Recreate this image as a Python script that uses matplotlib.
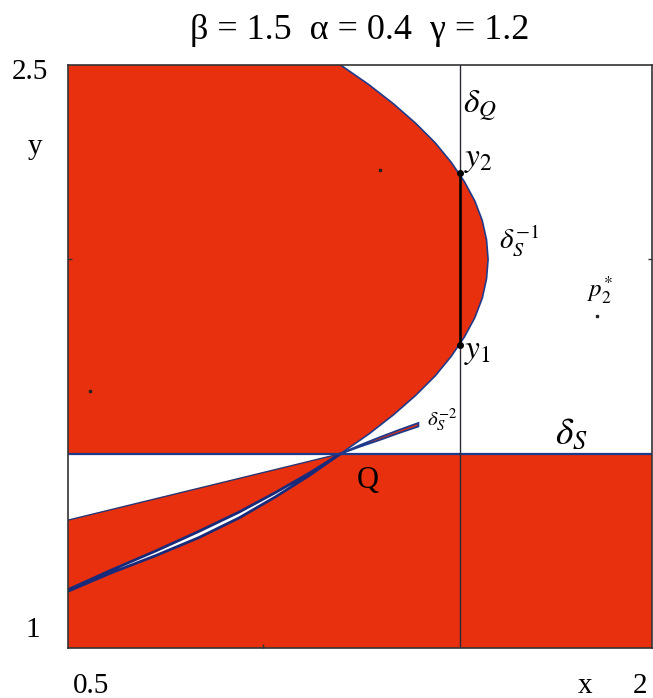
import matplotlib
matplotlib.use("Agg")
import matplotlib.pyplot as plt
import numpy as np

plt.rcParams['font.family'] = ['Liberation Serif', 'DejaVu Serif']
plt.rcParams['mathtext.fontset'] = 'stix'

RED = '#e8300f'
BLUE = '#1f3a8a'

# parameters shown in the title
beta, alpha, gamma = 1.5, 0.4, 1.2

# fixed point Q and the two invariant lines
q_pt = (1.2, 1.5)
delta_s_y = 1.5          # horizontal line delta_S
delta_q_x = 1.507        # vertical line delta_Q
y1, y2 = 1.78, 2.222     # intersections of delta_Q with delta_S^-1

# delta_S^-1 boundary, top of the box down to Q
inv1_x = [1.200, 1.272, 1.336, 1.393, 1.443, 1.484, 1.518, 1.545, 1.564, 1.575, 1.579,
          1.575, 1.564, 1.545, 1.518, 1.484, 1.443, 1.393, 1.336, 1.272, 1.200]
inv1_y = [2.50, 2.45, 2.40, 2.35, 2.30, 2.25, 2.20, 2.15, 2.10, 2.05, 2.00,
          1.95, 1.90, 1.85, 1.80, 1.75, 1.70, 1.65, 1.60, 1.55, 1.50]

# straight edge of the white wedge left of Q
wedge_x = [1.2, 0.5]
wedge_y = [1.5, 1.329]

# thin white sliver running from Q to the left border
sliver_lo_x_up = [1.200, 1.120, 1.033, 0.940, 0.836, 0.726, 0.610, 0.500]
sliver_lo_y_up = [1.500, 1.450, 1.400, 1.350, 1.300, 1.250, 1.200, 1.150]
sliver_lo_x_dn = [1.200, 1.120, 1.033, 0.940, 0.836, 0.726, 0.610, 0.500]
sliver_lo_y_dn = [1.500, 1.444, 1.389, 1.335, 1.284, 1.238, 1.193, 1.146]

# delta_S^-2 sliver going up and right from Q
sliver_hi_x_up = [1.200, 1.250, 1.300, 1.350, 1.400]
sliver_hi_y_up = [1.500, 1.522, 1.542, 1.561, 1.579]
sliver_hi_x_dn = [1.200, 1.250, 1.300, 1.350, 1.400]
sliver_hi_y_dn = [1.500, 1.518, 1.535, 1.553, 1.570]

# isolated orbit points
dots_x = [1.301, 0.5565, 1.859]
dots_y = [2.230, 1.661, 1.854]

fig = plt.figure(figsize=(6.53, 6.98), dpi=100)
ax = fig.add_axes([68 / 653, 50 / 698, 584 / 653, 583 / 698])
ax.set_xlim(0.5, 2.0)
ax.set_ylim(1.0, 2.5)

# red region above delta_S, left of delta_S^-1
top_x = [0.5, 0.5] + inv1_x
top_y = [1.5, 2.5] + inv1_y
ax.fill(top_x, top_y, color=RED, lw=0, zorder=1)

# red region below delta_S (except the white wedge)
bot_x = [0.5, 2.0, 2.0, q_pt[0], wedge_x[1]]
bot_y = [1.0, 1.0, delta_s_y, q_pt[1], wedge_y[1]]
ax.fill(bot_x, bot_y, color=RED, lw=0, zorder=1)

# slivers
ax.fill(sliver_lo_x_up + sliver_lo_x_dn[::-1], sliver_lo_y_up + sliver_lo_y_dn[::-1],
        facecolor='white', edgecolor='#1a2a7a', lw=2.0, zorder=3)
ax.fill(sliver_hi_x_up + sliver_hi_x_dn[::-1], sliver_hi_y_up + sliver_hi_y_dn[::-1],
        facecolor=RED, edgecolor=BLUE, lw=1.3, zorder=3)

# curves and lines
ax.plot(inv1_x, inv1_y, color=BLUE, lw=1.2, zorder=4)
ax.plot(wedge_x, wedge_y, color='#2a3470', lw=1.0, zorder=4)
ax.axhline(delta_s_y, color=BLUE, lw=1.6, zorder=4)
ax.axvline(delta_q_x, color='#2a2a3a', lw=1.0, zorder=4)
ax.plot([delta_q_x, delta_q_x], [y1, y2], color='black', lw=1.8, zorder=5)
ax.plot([delta_q_x, delta_q_x], [y1, y2], 'o', color='black', ms=4, zorder=6)
ax.plot(dots_x, dots_y, 's', color='#222222', ms=2, zorder=6)

# labels inside the box
ax.text(1.5146, 2.379, r'$\delta_Q$', fontsize=24, va='baseline', zorder=7)
ax.text(1.518, 2.255, r'$y_2$', fontsize=24, va='center', zorder=7)
ax.text(1.518, 1.761, r'$y_1$', fontsize=24, va='center', zorder=7)
ax.text(1.608, 2.050, r'$\delta_S^{-1}$', fontsize=21, va='center', zorder=7)
ax.text(1.832, 1.921, r'$p_2^{*}$', fontsize=18, va='center', zorder=7)
ax.text(1.751, 1.548, r'$\delta_S$', fontsize=27, va='center', zorder=7)
ax.text(1.423, 1.587, r'$\delta_S^{-2}$', fontsize=15, va='center', zorder=7)
ax.text(1.271, 1.432, 'Q', fontsize=22, ha='center', va='center', zorder=7)

ax.set_xticks([1.0])
ax.set_yticks([2.0])
ax.set_xticklabels([])
ax.set_yticklabels([])
ax.tick_params(direction='in', length=3, width=1, right=True, colors='#333333')
for s in ax.spines.values():
    s.set_color('#333333')
    s.set_linewidth(1.2)
    s.set_zorder(8)

# title and axis annotations
fig.text(0.551, 0.957, f'β = {beta}  α = {alpha}  γ = {gamma}', fontsize=26,
         ha='center', va='center')
fig.text(0.046, 0.897, '2.5', fontsize=21, ha='center', va='center')
fig.text(0.054, 0.790, 'y', fontsize=21, ha='center', va='center')
fig.text(0.050, 0.097, '1', fontsize=21, ha='center', va='center')
fig.text(0.139, 0.017, '0.5', fontsize=21, ha='center', va='center')
fig.text(0.896, 0.017, 'x', fontsize=21, ha='center', va='center')
fig.text(0.980, 0.017, '2', fontsize=21, ha='center', va='center')

fig.savefig('out.png', dpi=100)
